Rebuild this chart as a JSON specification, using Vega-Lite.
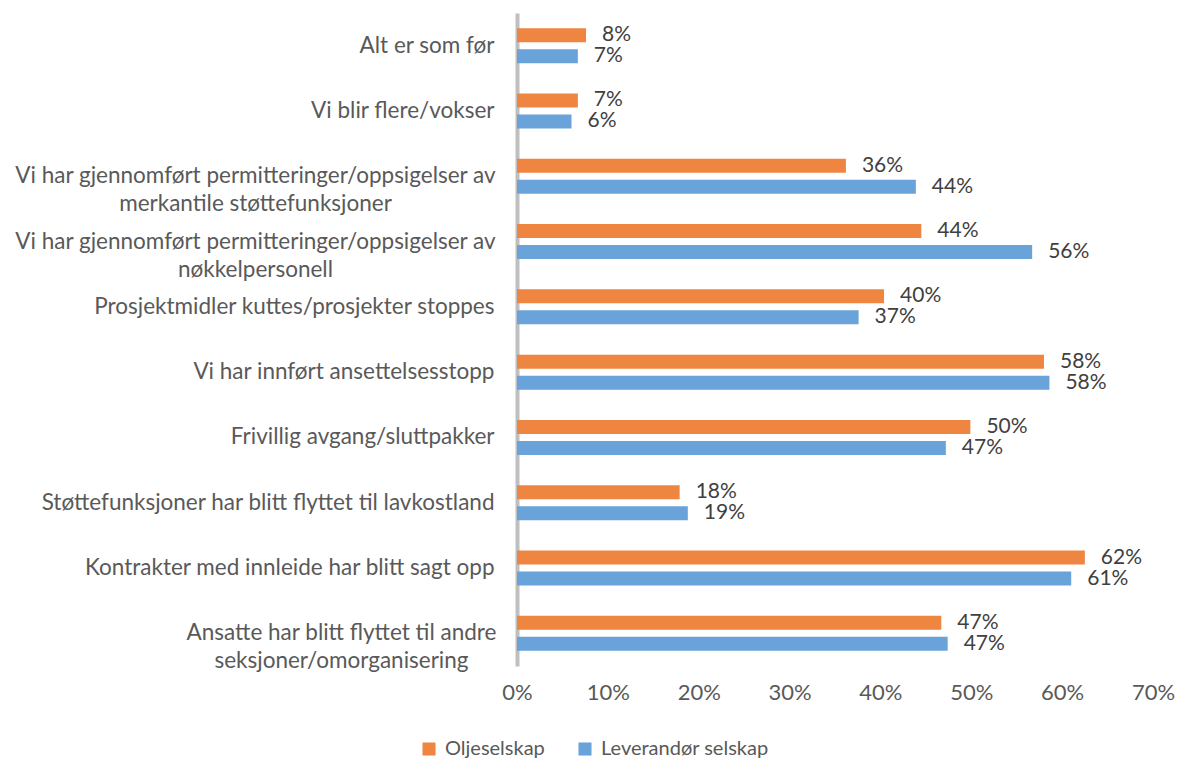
{
  "$schema": "https://vega.github.io/schema/vega-lite/v6.json",
  "autosize": {"type": "none"},
  "padding": {"left": 517, "top": 13, "right": 24, "bottom": 94},
  "width": 636,
  "height": 653,
  "background": "white",
  "config": {"view": {"stroke": null}, "font": "Lato"},
  "data": {"values": [
    {"category": "Alt er som før", "series": "Oljeselskap", "value": 0.076, "label": "8%"},
    {"category": "Alt er som før", "series": "Leverandør selskap", "value": 0.067, "label": "7%"},
    {"category": "Vi blir flere/vokser", "series": "Oljeselskap", "value": 0.067, "label": "7%"},
    {"category": "Vi blir flere/vokser", "series": "Leverandør selskap", "value": 0.060, "label": "6%"},
    {"category": "Vi har gjennomført permitteringer/oppsigelser av|merkantile støttefunksjoner", "series": "Oljeselskap", "value": 0.362, "label": "36%"},
    {"category": "Vi har gjennomført permitteringer/oppsigelser av|merkantile støttefunksjoner", "series": "Leverandør selskap", "value": 0.439, "label": "44%"},
    {"category": "Vi har gjennomført permitteringer/oppsigelser av|nøkkelpersonell", "series": "Oljeselskap", "value": 0.445, "label": "44%"},
    {"category": "Vi har gjennomført permitteringer/oppsigelser av|nøkkelpersonell", "series": "Leverandør selskap", "value": 0.567, "label": "56%"},
    {"category": "Prosjektmidler kuttes/prosjekter stoppes", "series": "Oljeselskap", "value": 0.404, "label": "40%"},
    {"category": "Prosjektmidler kuttes/prosjekter stoppes", "series": "Leverandør selskap", "value": 0.376, "label": "37%"},
    {"category": "Vi har innført ansettelsesstopp", "series": "Oljeselskap", "value": 0.580, "label": "58%"},
    {"category": "Vi har innført ansettelsesstopp", "series": "Leverandør selskap", "value": 0.586, "label": "58%"},
    {"category": "Frivillig avgang/sluttpakker", "series": "Oljeselskap", "value": 0.499, "label": "50%"},
    {"category": "Frivillig avgang/sluttpakker", "series": "Leverandør selskap", "value": 0.472, "label": "47%"},
    {"category": "Støttefunksjoner har blitt flyttet til lavkostland", "series": "Oljeselskap", "value": 0.179, "label": "18%"},
    {"category": "Støttefunksjoner har blitt flyttet til lavkostland", "series": "Leverandør selskap", "value": 0.188, "label": "19%"},
    {"category": "Kontrakter med innleide har blitt sagt opp", "series": "Oljeselskap", "value": 0.625, "label": "62%"},
    {"category": "Kontrakter med innleide har blitt sagt opp", "series": "Leverandør selskap", "value": 0.610, "label": "61%"},
    {"category": "Ansatte har blitt flyttet til andre|seksjoner/omorganisering", "series": "Oljeselskap", "value": 0.467, "label": "47%"},
    {"category": "Ansatte har blitt flyttet til andre|seksjoner/omorganisering", "series": "Leverandør selskap", "value": 0.474, "label": "47%"}
  ]},
  "encoding": {
    "y": {
      "field": "category", "type": "nominal", "sort": null,
      "scale": {"paddingInner": 0.464, "paddingOuter": 0.232},
      "axis": {
        "title": null,
        "ticks": false,
        "domainColor": "#BFBFBF",
        "domainWidth": 4,
        "labelExpr": "split(datum.label, '|')",
        "labelFont": "Lato",
        "labelFontSize": 22.5,
        "labelColor": "#595959",
        "labelLineHeight": 28,
        "labelLimit": 700,
        "labelAlign": {"condition": {"test": "indexof(datum.value, '|') >= 0", "value": "center"}, "value": "right"},
        "labelPadding": {"condition": [
          {"test": "indexof(datum.value, 'Vi har gjennomført') == 0", "value": 262},
          {"test": "indexof(datum.value, 'Ansatte') == 0", "value": 176}
        ], "value": 23}
      }
    },
    "yOffset": {
      "field": "series", "type": "nominal",
      "sort": ["Oljeselskap", "Leverandør selskap"],
      "scale": {"paddingInner": 0.333, "paddingOuter": 0}
    },
    "x": {
      "field": "value", "type": "quantitative",
      "scale": {"domain": [0, 0.7], "nice": false},
      "axis": {
        "title": null,
        "domain": false,
        "ticks": false,
        "grid": false,
        "values": [0, 0.1, 0.2, 0.3, 0.4, 0.5, 0.6, 0.7],
        "format": ".0%",
        "labelFlush": false,
        "labelFont": "Lato",
        "labelFontSize": 22,
        "labelColor": "#595959",
        "labelPadding": 16
      }
    }
  },
  "layer": [
    {
      "mark": {"type": "bar"},
      "encoding": {
        "color": {
          "field": "series", "type": "nominal",
          "scale": {"domain": ["Oljeselskap", "Leverandør selskap"], "range": ["#EE8541", "#69A3D9"]},
          "legend": {
            "title": null,
            "orient": "none",
            "direction": "horizontal",
            "legendX": -98,
            "legendY": 726,
            "symbolType": "square",
            "symbolSize": 170,
            "symbolStrokeWidth": 0,
            "labelFont": "Lato",
            "labelFontSize": 20,
            "labelColor": "#595959",
            "labelOffset": 6,
            "labelLimit": 400,
            "columnPadding": 30
          }
        }
      }
    },
    {
      "mark": {"type": "text", "align": "left", "baseline": "middle", "dx": 16, "fontSize": 21, "color": "#404040", "font": "Lato"},
      "encoding": {"text": {"field": "label"}}
    }
  ]
}
